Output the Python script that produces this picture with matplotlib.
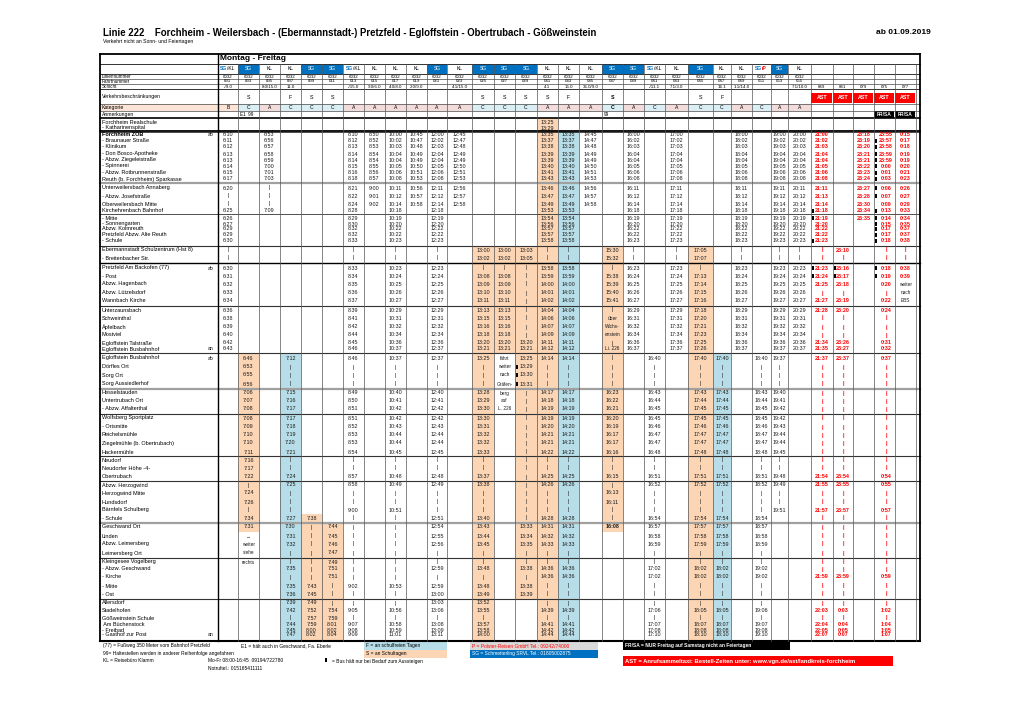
import matplotlib.pyplot as plt
from matplotlib.patches import Rectangle
from matplotlib import font_manager

_names = {f.name for f in font_manager.fontManager.ttflist}
NARROW = 'Liberation Sans Narrow' if 'Liberation Sans Narrow' in _names else 'Liberation Sans'
plt.rcParams['font.family'] = ['Liberation Sans', 'DejaVu Sans']

TITLE = "Linie 222    Forchheim - Weilersbach - (Ebermannstadt-) Pretzfeld - Egloffstein - Obertrubach - Gößweinstein"
SUBTITLE = "Verkehrt nicht an Sonn- und Feiertagen"
VALID_FROM = "ab 01.09.2019"
DAY_LABEL = "Montag - Freitag"

STOPS = [
    "Forchheim Realschule", "- Katharinenspital", "Forchheim ZOB", "- Braunauer Straße",
    "- Klinikum", "- Don Bosco-Apotheke", "- Abzw. Ziegeleistraße", "- Spinnerei",
    "- Abzw. Rotbrunnenstraße", "Reuth (b. Forchheim) Sparkasse",
    "Unterweilersbach Annaberg", "- Abzw. Josefstraße", "Oberweilersbach Mitte",
    "Kirchehrenbach Bahnhof", "- Mitte", "- Sonnengarten", "Abzw. Kolmreuth",
    "Pretzfeld Abzw. Alte Reuth", "- Schule", "Ebermannstadt Schulzentrum (Hst 8)",
    "- Breitenbacher Str.", "Pretzfeld Am Backofen (77)", "- Post", "Abzw. Hagenbach",
    "Abzw. Lützelsdorf", "Wannbach Kirche", "Unterzaunsbach", "Schweinthal", "Äpfelbach",
    "Mostviel", "Egloffstein Talstraße", "Egloffstein Busbahnhof", "Egloffstein Busbahnhof",
    "Dörfles Ort", "Sorg Ort", "Sorg Aussiedlerhof", "Hesselstauden", "Untertrubach Ort",
    "- Abzw. Affalterthal", "Wolfsberg Sportplatz", "- Ortsmitte", "Reichelsmühle",
    "Ziegelmühle (b. Obertrubach)", "Hackermühle", "Neudorf", "Neudorfer Höhe -4-",
    "Obertrubach", "Abzw. Herzogwind", "Herzogwind Mitte", "Hundsdorf",
    "Bärnfels Schulberg", "- Schule", "Geschwand Ort", "Linden", "Abzw. Leimersberg",
    "Leimersberg Ort", "Kleingesee Vogelberg", "- Abzw. Geschwand", "- Kirche", "- Mitte",
    "- Ost", "Allersdorf", "Stadelhofen", "Gößweinstein Schule", " Am Büchenstock",
    "- Freibad", "- Gasthof zur Post",
]
STOP_MARK = {2: "ab", 21: "ab", 31: "an", 32: "ab", 66: "an"}

OPERATOR = ["SG/KL", "SG", "KL", "KL", "SG", "SG", "SG/KL", "KL", "KL", "KL", "SG", "KL",
            "SG", "SG", "SG", "KL", "KL", "KL", "SG", "SG", "SG/KL", "KL", "SG", "KL", "KL",
            "SG/P", "SG", "KL", "", "", "", "", ""]
LINE_NO = ["6032"] * 28 + [""] * 5
TRIP_NO = ["001", "003", "005", "007", "009", "011", "013", "015", "017", "019", "021", "023",
           "025", "027", "029", "031", "033", "035", "037", "039", "041", "043", "045", "047",
           "049", "051", "053", "055", "", "", "", "", ""]
SHIFT = ["-/9.0", "", "8.0/15.0", "11.0", "", "", "-/15.0", "9.0/6.0", "4.0/8.0", "2.0/9.0",
         "", "4.1/15.0", "", "", "", "4.1", "15.0", "36.0/9.0", "", "", "-/11.1", "7.1/3.0",
         "", "16.1", "1.1/14.0", "", "", "7.1/10.0", "069", "061", "079", "075", "077"]
RESTRICTION = ["", "S", "", "F", "S", "S", "", "", "", "", "", "", "S", "S", "S", "S", "F",
               "", "S", "", "", "", "S", "F", "", "", "", "", "AST", "AST", "AST", "AST", "AST"]
CATEGORY = ["B", "C", "A", "C", "C", "C", "A", "A", "A", "A", "A", "A", "C", "C", "C", "A",
            "A", "A", "C", "A", "C", "A", "C", "C", "A", "C", "A", "A", "", "", "", "", ""]
REMARKS = {1: "E1  99", 18: "99", 31: "FR/SA", 32: "FR/SA"}

# (first stop row, times) per trip column; "." empty, "|" passes without stop
TRIPS = [
    (2, "6:10 6:11 6:12 6:13 6:13 6:14 6:15 6:17 6:20 | | 6:25 6:26 6:27 6:29 6:29 6:30 | | "
        "6:30 6:31 6:32 6:33 6:34 6:36 6:38 6:39 6:40 6:42 6:43"),
    (32, "6:46 6:53 6:55 6:56 7:06 7:07 7:08 7:08 7:09 7:10 7:10 7:11 7:16 7:17 7:22 | 7:24 "
         "7:26 | 7:34 7:31 → weiter siehe rechts"),
    (2, "6:53 6:56 6:57 6:58 6:59 7:00 7:01 7:03 | | | 7:09"),
    (32, "7:12 | | | 7:15 7:16 7:17 7:17 7:18 7:19 7:20 7:21 | | 7:24 7:25 | | | 7:27 7:30 "
         "7:31 7:32 | | 7:35 | 7:35 7:36 7:39 7:42 | 7:44 7:45 7:47"),
    (51, "7:38 | | | | | | | 7:43 7:45 7:49 7:52 7:57 7:59 8:00 8:02"),
    (52, "7:44 7:45 7:46 7:47 7:49 7:51 7:51 | | | 7:54 7:59 8:01 8:02 8:04"),
    (2, "8:10 8:12 8:13 8:14 8:14 8:15 8:16 8:18 8:21 8:22 8:24 8:28 8:29 8:30 8:32 8:32 8:33 "
        "| | 8:33 8:34 8:35 8:36 8:37 8:39 8:41 8:42 8:44 8:45 8:46 8:46 | | | 8:49 8:50 8:51 "
        "8:51 8:52 8:53 8:53 8:54 | | 8:57 8:58 | | 9:00 | | | | | | | | 9:02 | | 9:05 | 9:07 "
        "9:08 9:09"),
    (2, "8:50 8:52 8:53 8:54 8:54 8:55 8:56 8:57 9:00 9:01 9:02"),
    (2, "10:00 10:02 10:03 10:04 10:04 10:05 10:06 10:08 10:11 10:12 10:14 10:18 10:19 10:20 "
        "10:22 10:22 10:23 | | 10:23 10:24 10:25 10:26 10:27 10:29 10:31 10:32 10:34 10:36 "
        "10:37 10:37 | | | 10:40 10:41 10:42 10:42 10:43 10:44 10:44 10:45 | | 10:48 10:49 | | "
        "10:51 | | | | | | | | 10:53 | | 10:56 | 10:58 10:59 11:01"),
    (2, "10:45 10:47 10:48 10:49 10:49 10:50 10:51 10:53 10:56 10:57 10:58"),
    (2, "12:00 12:02 12:03 12:04 12:04 12:05 12:06 12:08 12:11 12:12 12:14 12:18 12:19 12:20 "
        "12:22 12:22 12:23 | | 12:23 12:24 12:25 12:26 12:27 12:29 12:31 12:32 12:34 12:36 "
        "12:37 12:37 | | | 12:40 12:41 12:42 12:42 12:43 12:44 12:44 12:45 | | 12:48 12:49 | | "
        "| 12:51 12:54 12:55 12:56 | | 12:59 | 12:59 13:00 13:03 13:06 | 13:08 13:09 13:11"),
    (2, "12:45 12:47 12:48 12:49 12:49 12:50 12:51 12:53 12:56 12:57 12:58"),
    (19, "13:00 13:02 | 13:08 13:09 13:10 13:11 13:13 13:15 13:16 13:18 13:20 13:21 13:25 | | | "
         "13:28 13:29 13:30 13:30 13:31 13:32 13:32 13:33 | | 13:37 13:38 | | | 13:40 13:43 "
         "13:44 13:45 | | 13:48 | 13:48 13:49 13:52 13:55 | 13:57 13:58 14:00"),
    (19, "13:00 13:02 | 13:08 13:09 13:10 13:11 13:13 13:15 13:16 13:18 13:20 13:21 fährt "
         "weiter nach Gräfen- berg auf L._226"),
    (19, "13:03 13:05 | | | | | | | | | 13:20 13:21 13:25 13:29 13:30 13:31 | | | | | | | | | | "
         "| | | | | | 13:33 13:34 13:35 | | 13:38 | 13:38 13:39"),
    (0, "13:25 13:29 13:35 13:37 13:38 13:39 13:39 13:40 13:41 13:43 13:46 13:47 13:49 13:53 "
        "13:54 13:56 13:57 13:57 13:58 | | 13:58 13:59 14:00 14:01 14:02 14:04 14:06 14:07 "
        "14:09 14:11 14:12 14:14 | | | 14:17 14:18 14:19 14:19 14:20 14:21 14:21 14:22 | | "
        "14:25 14:26 | | | 14:28 14:31 14:32 14:33 | | 14:36 14:36 | | | 14:39 | 14:41 14:42 14:44"),
    (2, "13:35 13:37 13:38 13:39 13:39 13:40 13:41 13:43 13:46 13:47 13:49 13:53 13:54 13:56 "
        "13:57 13:57 13:58 | | 13:58 13:59 14:00 14:01 14:02 14:04 14:06 14:07 14:09 14:11 "
        "14:12 14:14 | | | 14:17 14:18 14:19 14:19 14:20 14:21 14:21 14:22 | | 14:25 14:26 | | "
        "| 14:28 14:31 14:32 14:33 | | 14:36 14:36 | | | 14:39 | 14:41 14:42 14:44"),
    (2, "14:45 14:47 14:48 14:49 14:49 14:50 14:51 14:53 14:56 14:57 14:58"),
    (19, "15:30 15:32 | 15:38 15:39 15:40 15:41 | über Wichs- enstein | Li._226 | | | | 16:23 "
         "16:22 16:21 16:20 16:19 16:17 16:17 16:16 | | 16:15 | 16:13 16:11 | | 16:08"),
    (2, "16:00 16:02 16:03 16:04 16:04 16:05 16:06 16:08 16:11 16:12 16:14 16:18 16:19 16:20 "
        "16:22 16:22 16:23 | | 16:23 16:24 16:25 16:26 16:27 16:29 16:31 16:32 16:34 16:36 16:37"),
    (32, "16:40 | | | 16:43 16:44 16:45 16:45 16:46 16:47 16:47 16:48 | | 16:51 16:52 | | | "
         "16:54 16:57 16:58 16:59 | | 17:02 17:02 | | | 17:06 | 17:07 17:08 17:10"),
    (2, "17:00 17:02 17:03 17:04 17:04 17:05 17:06 17:08 17:11 17:12 17:14 17:18 17:19 17:20 "
        "17:22 17:22 17:23 | | 17:23 17:24 17:25 17:26 17:27 17:29 17:31 17:32 17:34 17:36 17:37"),
    (19, "17:05 17:07 | 17:13 17:14 17:15 17:16 17:18 17:20 17:21 17:23 17:25 17:26 17:40 | | | "
         "17:43 17:44 17:45 17:45 17:46 17:47 17:47 17:48 | | 17:51 17:52 | | | 17:54 17:57 "
         "17:58 17:59 | | 18:02 18:02 | | | 18:05 | 18:07 18:08 18:10"),
    (32, "17:40 | | | 17:43 17:44 17:45 17:45 17:46 17:47 17:47 17:48 | | 17:51 17:52 | | | "
         "17:54 17:57 17:58 17:59 | | 18:02 18:02 | | | 18:05 | 18:07 18:08 18:10"),
    (2, "18:00 18:02 18:03 18:04 18:04 18:05 18:06 18:08 18:11 18:12 18:14 18:18 18:19 18:20 "
        "18:22 18:22 18:23 | | 18:23 18:24 18:25 18:26 18:27 18:29 18:31 18:32 18:34 18:36 18:37"),
    (32, "18:40 | | | 18:43 18:44 18:45 18:45 18:46 18:47 18:47 18:48 | | 18:51 18:52 | | | "
         "18:54 18:57 18:58 18:59 | | 19:02 19:02 | | | 19:06 | 19:07 19:08 19:10"),
    (2, "19:00 19:02 19:03 19:04 19:04 19:05 19:06 19:08 19:11 19:12 19:14 19:18 19:19 19:20 "
        "19:22 19:22 19:23 | | 19:23 19:24 19:25 19:26 19:27 19:29 19:31 19:32 19:34 19:36 "
        "19:37 19:37 | | | 19:40 19:41 19:42 19:42 19:43 19:44 19:44 19:45 | | 19:48 19:49 | | 19:51"),
    (2, "20:00 20:02 20:03 20:04 20:04 20:05 20:06 20:08 20:11 20:12 20:14 20:18 20:19 20:20 "
        "20:22 20:22 20:23 | | 20:23 20:24 20:25 20:26 20:27 20:29 20:31 20:32 20:34 20:36 20:37"),
    (2, "21:00 21:02 21:03 21:04 21:04 21:05 21:06 21:08 21:11 21:13 21:14 21:18 21:19 21:20 "
        "21:22 21:22 21:23 | | 21:23 21:24 21:25 | 21:27 21:28 | | | 21:34 21:35 21:37 | | | | | "
        "| | | | | | | | 21:54 21:55 | | 21:57 | | | | | | | 21:59 | | | 22:03 | 22:04 22:05 22:07"),
    (19, "23:10 | 23:16 23:17 23:18 | 23:19 23:20 | | | 23:26 23:27 23:37 | | | | | | | | | | | | | "
         "23:54 23:55 | | 23:57 | | | | | | | 23:59 | | | 0:03 | 0:04 0:05 0:07"),
    (2, "23:18 23:19 23:20 23:21 23:21 23:22 23:23 23:24 23:27 23:28 23:30 23:34 23:35"),
    (2, "23:55 23:57 23:58 23:59 23:59 0:00 0:01 0:03 0:06 0:07 0:09 0:13 0:14 0:15 0:17 0:17 "
        "0:18 | | 0:18 0:19 0:20 | 0:22 0:24 | | | 0:31 0:32 0:37 | | | | | | | | | | | | | 0:54 "
        "0:55 | | 0:57 | | | | | | | 0:59 | | | 1:02 | 1:04 1:05 1:07"),
    (2, "0:15 0:17 0:18 0:19 0:19 0:20 0:21 0:23 0:26 0:27 0:29 0:33 0:34 0:35 0:37 0:37 0:38 | "
        "| 0:38 0:39 weiter nach EBS"),
]
# stops where the bus only halts on request (trip column -> stop rows)
ON_REQUEST = {14: [33, 34, 35], 28: [13, 14, 18, 21, 22], 29: [21, 22],
              31: [3, 4, 5, 6, 7, 8, 9, 10, 11, 13, 14, 15, 16, 17, 18, 21, 22]}

# ---- layout (pixels) ----
COL_EDGES = [218, 238, 259, 280, 301, 322, 343, 364, 385, 406, 427, 447, 472, 494, 515, 537,
             558, 579, 602, 623, 644, 665, 688, 713, 731, 752, 771, 788, 811, 833, 853, 874,
             895, 916]
ROW_Y = [122, 128, 135, 141, 147, 154, 160, 166, 173, 179, 188, 196, 204, 211, 218, 224, 229,
         235, 241, 250, 258, 268, 276, 284, 293, 301, 310, 318, 327, 335, 343, 349, 358, 367,
         375, 384, 393, 401, 409, 418, 427, 435, 443, 452, 460, 468, 477, 485, 493, 502, 510,
         518, 527, 536, 544, 553, 562, 569, 577, 586, 594, 603, 610, 618, 625, 630, 635]
SEPARATORS = [(130.5, 'k', 1.3), (183, '#a0a0a0', 1.6), (214, '#333', 0.6), (245.5, '#333', 0.8),
              (263, 'k', 1.0), (306, '#333', 0.8), (353, '#333', 0.8), (388.5, '#a0a0a0', 1.6),
              (413.5, '#333', 0.8), (456, '#333', 0.8), (480.5, '#333', 0.8),
              (523, '#a0a0a0', 1.6), (557.5, '#333', 0.8), (598.5, '#333', 0.8)]
LEFT, RIGHT, TOP, BOTTOM = 100, 920, 54, 641

ORANGE = '#fcd5b4'
LBLUE = '#b7dee8'
CAT_COL = {'A': '#f2dcdb', 'B': '#fce4d6', 'C': '#daeef3'}
SG_BLUE = '#0070c0'
RED = '#ff0000'
FS = 3.9
IS_NARROW = NARROW != 'Liberation Sans'

fig = plt.figure(figsize=(10.2, 7.21), dpi=100)
ax = fig.add_axes([0, 0, 1, 1])
ax.set_xlim(0, 1020)
ax.set_ylim(721, 0)
ax.axis('off')


def txt(x, y, s, size=FS, ha='center', **kw):
    ax.text(x, y, s, fontsize=size, ha=ha, va='center', zorder=4, **kw)


def box(x0, y0, x1, y1, color):
    ax.add_patch(Rectangle((x0, y0), x1 - x0, y1 - y0, facecolor=color, edgecolor='none', zorder=1))


def row_top(i):
    return 131 if i == 2 else (118 if i == 0 else (ROW_Y[i - 1] + ROW_Y[i]) / 2)


def row_bot(i):
    return BOTTOM if i == len(ROW_Y) - 1 else (ROW_Y[i] + ROW_Y[i + 1]) / 2


# title
ax.text(LEFT + 3, 33, TITLE, fontsize=8.4 if IS_NARROW else 6.9,
        family=[NARROW, 'DejaVu Sans'], weight='bold', ha='left', va='center')
ax.text(LEFT + 3, 41.5, SUBTITLE, fontsize=4.4 if IS_NARROW else 3.7,
        family=[NARROW, 'DejaVu Sans'], ha='left', va='center')
ax.text(931, 33, VALID_FROM, fontsize=7.4 if IS_NARROW else 6.0,
        family=[NARROW, 'DejaVu Sans'], weight='bold', ha='right', va='center')

# header block
txt(COL_EDGES[0] + 2, 59, DAY_LABEL, size=6.0, ha='left', weight='bold')
hdr_rows = {'type': (64, 74), 'line': (74, 79), 'trip': (79, 84), 'shift': (84, 89),
            'restr': (89, 104), 'cat': (104, 111), 'rem': (111, 118)}
hdr_labels = [('line', 'Liniennummer'), ('trip', 'Fahrtnummer'), ('shift', 'Schicht'),
              ('restr', 'Verkehrsbeschränkungen'), ('cat', 'Kategorie'), ('rem', 'Anmerkungen')]
for key, lab in hdr_labels:
    y0, y1 = hdr_rows[key]
    txt(LEFT + 2, (y0 + y1) / 2, lab, size=3.7 if key in ('restr', 'cat', 'rem') else 3.3, ha='left')
    if key == 'cat':
        box(LEFT + 0.5, y0, COL_EDGES[0], y1, CAT_COL['B'])

for j in range(len(OPERATOR)):
    x0, x1 = COL_EDGES[j], COL_EDGES[j + 1]
    cx = (x0 + x1) / 2
    y0, y1 = hdr_rows['type']
    cy = (y0 + y1) / 2
    op = OPERATOR[j]
    if op == 'SG':
        box(x0, y0, x1, y1, SG_BLUE)
        txt(cx, cy, 'SG', size=3.6, color='white')
    elif op == 'SG/KL':
        txt(cx - 0.5, cy, 'SG', size=3.6, ha='right', color=SG_BLUE, weight='bold')
        txt(cx - 0.5, cy, '/KL', size=3.6, ha='left')
    elif op == 'SG/P':
        txt(cx + 0.8, cy, 'SG', size=3.6, ha='right', color=SG_BLUE, weight='bold')
        txt(cx + 0.8, cy, '/P', size=3.6, ha='left', color=RED, weight='bold')
    elif op:
        txt(cx, cy, op, size=3.6)
    for key, vals in (('line', LINE_NO), ('trip', TRIP_NO)):
        if vals[j]:
            txt(cx, sum(hdr_rows[key]) / 2, vals[j], size=3.2)
    if SHIFT[j]:
        txt(cx, sum(hdr_rows['shift']) / 2, SHIFT[j], size=3.2)
    y0, y1 = hdr_rows['restr']
    r = RESTRICTION[j]
    if r == 'AST':
        box(x0 + 0.5, y0 + 3.5, x1 - 0.5, y1 - 1, RED)
        txt(cx, (y0 + y1) / 2 + 1.2, r, size=3.8, color='white', weight='bold')
    elif r:
        txt(cx, (y0 + y1) / 2 + 1.2, r, size=3.8, weight='bold' if j == 18 else 'normal')
    y0, y1 = hdr_rows['cat']
    if CATEGORY[j]:
        box(x0, y0, x1, y1, CAT_COL[CATEGORY[j]])
        txt(cx, (y0 + y1) / 2, CATEGORY[j], size=3.6, weight='bold' if j == 18 else 'normal')
    y0, y1 = hdr_rows['rem']
    if j in REMARKS:
        if REMARKS[j] == 'FR/SA':
            box(x0 + 0.5, y0, x1 - 0.5, y1, 'black')
            txt(cx, (y0 + y1) / 2, 'FR/SA', size=3.5, color='white', weight='bold')
        else:
            txt(x0 + 2, (y0 + y1) / 2, REMARKS[j], size=3.3, ha='left')

# stop names
for i, name in enumerate(STOPS):
    txt(LEFT + 2, ROW_Y[i], name, size=4.0, ha='left', weight='bold' if i == 2 else 'normal')
    if i in STOP_MARK:
        txt(COL_EDGES[0] - 4, ROW_Y[i], STOP_MARK[i], size=3.6, ha='right')

# trips
for j, (start, seq) in enumerate(TRIPS):
    x0, x1 = COL_EDGES[j], COL_EDGES[j + 1]
    cx = (x0 + x1) / 2
    tokens = seq.split()
    ast = RESTRICTION[j] == 'AST'
    timed = [start + k for k, t in enumerate(tokens) if ':' in t]
    if RESTRICTION[j] in ('S', 'F') and timed:
        shade = ORANGE if RESTRICTION[j] == 'S' else LBLUE
        box(x0, row_top(start), x1, row_bot(timed[-1]), shade)
    for k, t in enumerate(tokens):
        i = start + k
        if t == '.':
            continue
        t = t.replace('_', ' ')
        is_time = ':' in t or t == '|'
        color = RED if ast and is_time else '#1a1a1a'
        weight = 'bold' if ast and is_time else 'normal'
        if j == 18 and i == 52:
            weight = 'bold'
        size = FS if is_time else 3.4
        txt(cx + (1.5 if j == 31 else 0), ROW_Y[i], t, size=size, color=color, weight=weight)
    for i in ON_REQUEST.get(j, []):
        ax.add_patch(Rectangle((x0 + 1.0, ROW_Y[i] - 2.0), 2.0, 4.0, facecolor='black',
                               edgecolor='none', zorder=5))

# grid lines
ax.plot([LEFT, RIGHT], [TOP, TOP], color='k', lw=1.3, zorder=3)
ax.plot([LEFT, RIGHT], [BOTTOM, BOTTOM], color='k', lw=1.5, zorder=3)
for y in (64, 74, 79, 84, 89, 104, 111):
    ax.plot([LEFT, RIGHT], [y, y], color='#333', lw=0.7 if y in (64, 74, 89) else 0.45, zorder=3)
ax.plot([LEFT, RIGHT], [118, 118], color='k', lw=1.2, zorder=3)
for y, c, lw in SEPARATORS:
    ax.plot([LEFT, RIGHT], [y, y], color=c, lw=lw, zorder=3)
ax.plot([LEFT, RIGHT], [132, 132], color='k', lw=0.5, zorder=3)
ax.plot([LEFT, LEFT], [TOP, BOTTOM], color='k', lw=1.3, zorder=3)
ax.plot([RIGHT, RIGHT], [TOP, BOTTOM], color='k', lw=1.3, zorder=3)
ax.plot([COL_EDGES[0], COL_EDGES[0]], [TOP, BOTTOM], color='k', lw=1.0, zorder=3)
for x in COL_EDGES[1:]:
    ax.plot([x, x], [64, BOTTOM], color='#555', lw=0.5, zorder=3)

# footer / legend
fy = [646, 653, 661, 668]
txt(LEFT + 3, fy[0], "(77) = Fußweg 350 Meter vom Bahnhof Pretzfeld", size=3.5, ha='left')
txt(241, fy[0], "E1 = hält auch in Geschwand, Fa. Eberle", size=3.5, ha='left')
txt(LEFT + 3, fy[1], "99= Haltestellen werden in anderer Reihenfolge angefahren", size=3.5, ha='left')
txt(LEFT + 3, fy[2], "KL = Reisebüro Klamm", size=3.5, ha='left')
txt(208, fy[2], "Mo-Fr 08:00-16:45  09194/722780", size=3.5, ha='left')
txt(208, fy[3], "Notruftel.: 015165411111", size=3.5, ha='left')
ax.add_patch(Rectangle((325, 657.5), 2.0, 4.5, facecolor='black', edgecolor='none', zorder=5))
txt(332, fy[2], "= Bus hält nur bei Bedarf zum Aussteigen", size=3.5, ha='left')

box(364, 642, 447, 650, LBLUE)
txt(366, fy[0], "F = an schulfreien Tagen", size=3.5, ha='left')
box(364, 650, 447, 658, ORANGE)
txt(366, fy[1] + 0.5, "S = an Schultagen", size=3.5, ha='left')
box(470, 642, 598, 650, '#d9d9d9')
txt(472, fy[0], "P = Polster-Reisen GmbH Tel.: 09242/74000", size=3.5, ha='left', color=RED)
box(470, 650, 598, 658, SG_BLUE)
txt(472, fy[1] + 0.5, "SG = Schmetterling SRVL Tel.: 01805002875", size=3.5, ha='left', color='white')
box(623, 642, 790, 650, 'black')
txt(625, fy[0], "FR/SA = NUR Freitag auf Samstag nicht an Feiertagen", size=3.5, ha='left',
    color='white', weight='bold')
box(623, 656, 893, 666, RED)
txt(625, fy[2], "AST = Anrufsammeltaxi: Bestell-Zeiten unter: www.vgn.de/ast/landkreis-forchheim",
    size=4.2, ha='left', color='white', weight='bold')

fig.savefig('out.png', dpi=100)
